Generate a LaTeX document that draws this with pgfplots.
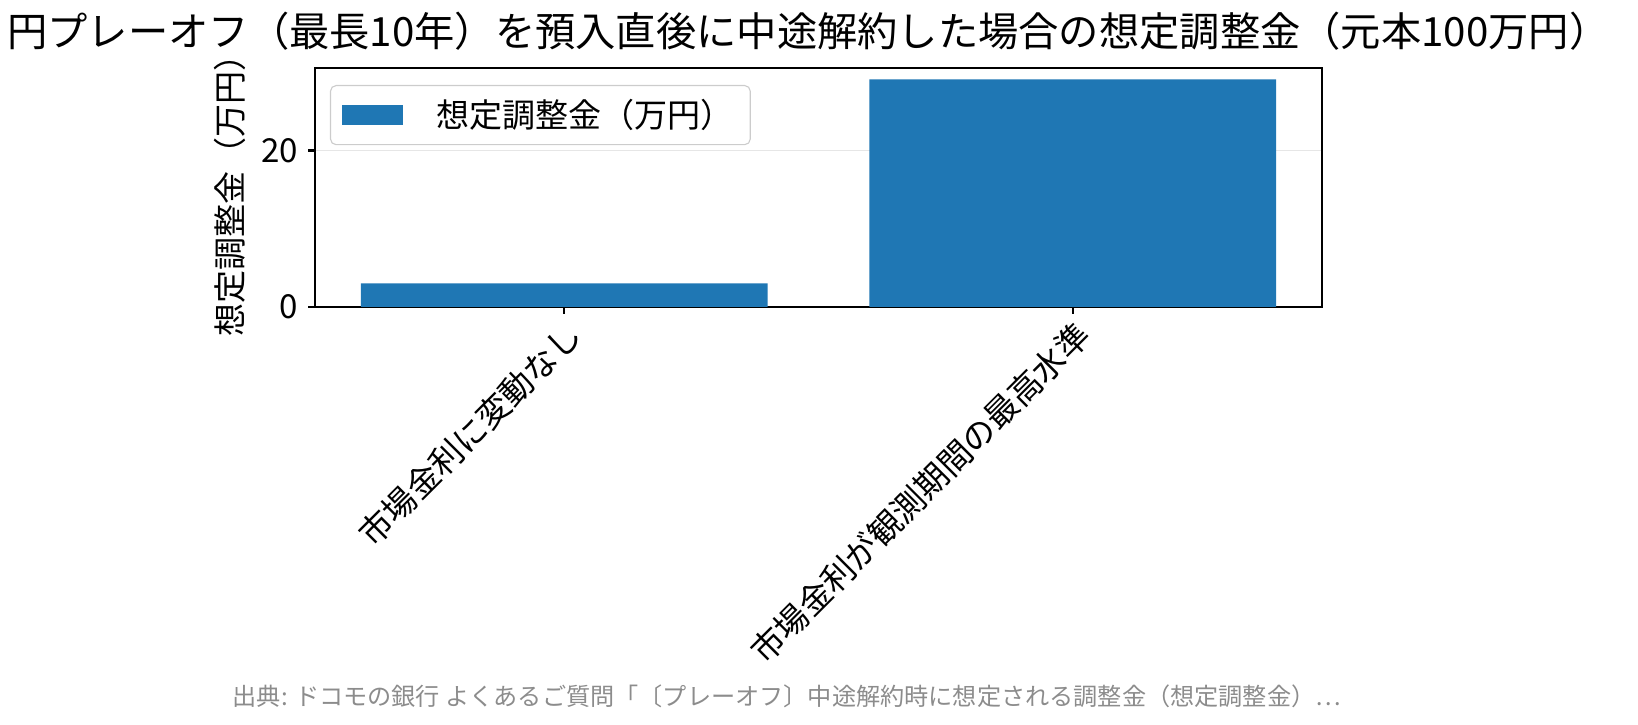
\documentclass[border=0pt]{standalone}
\usepackage{fontspec}
\setmainfont{Noto Sans CJK JP}
\usepackage{pgfplots}
\pgfplotsset{compat=1.18}
\definecolor{barblue}{HTML}{1F77B4}
\definecolor{gridgray}{HTML}{E6E6E6}
\definecolor{srcgray}{HTML}{8C8C8C}
\newcommand\lbl{\fontsize{11.9pt}{13.5pt}\selectfont}
\begin{document}
\begin{tikzpicture}[x=1pt,y=1pt]
\begin{axis}[
    at={(113.4pt,150.5pt)}, anchor=south west,
    scale only axis, width=362.5pt, height=86pt,
    xmin=-0.49, xmax=1.49, ymin=0, ymax=30.55,
    xtick={0,1},
    xticklabels={市場金利に変動なし, 市場金利が観測期間の最高水準},
    ytick={0,20},
    xtick pos=bottom, ytick pos=left,
    tick align=outside, major tick length=2.5pt,
    tick style={black, line width=0.8pt},
    axis line style={line width=0.8pt},
    ymajorgrids, grid style={gridgray, line width=0.6pt},
    /pgf/number format/assume math mode=true,
    tick label style={font=\lbl},
    xticklabel style={rotate=45, anchor=north east, inner sep=1pt},
    ylabel={想定調整金（万円）},
    ylabel style={at={(axis description cs:-0.0845,0.5)}, anchor=center, font=\lbl},
    every axis title shift=0pt,
    title={円プレーオフ（最長10年）を預入直後に中途解約した場合の想定調整金（元本100万円）},
    title style={at={(axis description cs:0.49,1)}, anchor=base, yshift=7.9pt,
        font=\fontsize{14.5pt}{16.5pt}\selectfont},
    legend style={at={(0.0149,0.929)}, anchor=north west, font=\lbl,
        draw=gray!40, rounded corners=2pt, fill=white,
        inner xsep=4pt, inner ysep=2.8pt},
    legend cell align=left,
    legend image code/.code={\fill[barblue, sharp corners] (0pt,-3.7pt) rectangle (22pt,3.7pt);
        \path (32pt,0pt);},
]
\addplot[ybar, bar width=0.8, fill=barblue, draw=none]
    coordinates {(0,3.0) (1,29.1)};
\addlegendentry{想定調整金（万円）}
\end{axis}
\node[anchor=base, text=srcgray, font=\fontsize{8.7pt}{10pt}\selectfont]
    at (283.3,7) {出典: ドコモの銀行 よくあるご質問「〔プレーオフ〕中途解約時に想定される調整金（想定調整金）…};
\pgfresetboundingbox
\path[use as bounding box] (0,0) rectangle (589.7,261);
\end{tikzpicture}
\end{document}
